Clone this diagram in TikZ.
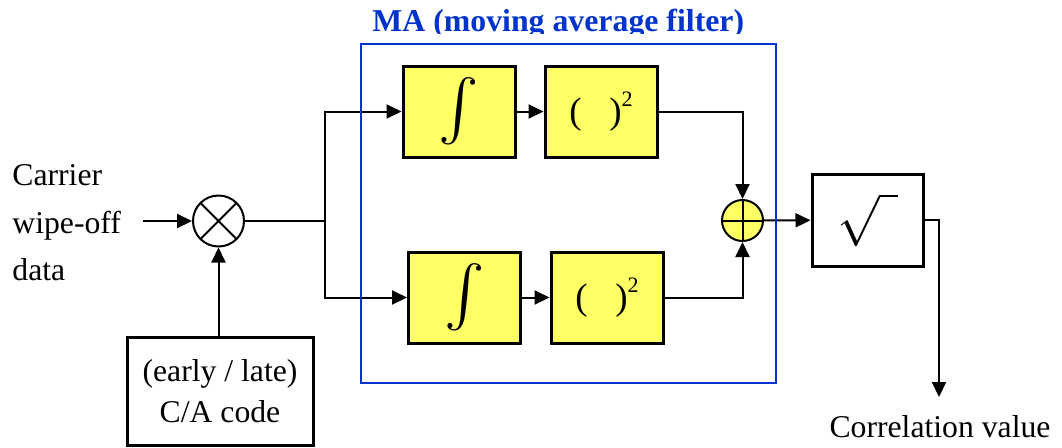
\documentclass[tikz,border=0pt]{standalone}
\usepackage{fontspec}
\setmainfont{Liberation Serif}
\usetikzlibrary{arrows.meta}
\definecolor{boxyellow}{RGB}{255,255,102}
\definecolor{mablue}{RGB}{0,51,204}
\tikzset{
  wire/.style={line width=1pt, draw=black},
  arr/.style={wire, -{Triangle[length=7.5pt,width=7pt]}},
  ybox/.style={draw=black, line width=1.5pt, fill=boxyellow, minimum width=56pt, minimum height=45.5pt, inner sep=0pt},
  wbox/.style={draw=black, line width=1.5pt, fill=white, inner sep=0pt},
  txt/.style={font=\fontsize{15.85}{23.75}\selectfont, inner sep=0pt},
}
\newcommand{\myint}{\resizebox{!}{24.5pt}{$\int$}}
\newcommand{\mysq}{\fontsize{18.5}{20}\selectfont(\hspace{0.75em})\raisebox{8.5pt}{\fontsize{11}{12}\selectfont 2}}
\begin{document}
\begin{tikzpicture}[x=0.5pt,y=-0.5pt]
\useasboundingbox (0,0) rectangle (1062,447);

% title (clipped at bottom as in the original)
\begin{scope}
  \clip (300,0) rectangle (800,33);
  \node[txt, text=mablue, font=\bfseries\fontsize{15.9}{19}\selectfont, anchor=base west] (title) at (372,31) {MA (moving average filter)};
\end{scope}

% input text
\node[txt, align=left, anchor=west] (carrier) at (12,223) {Carrier\\wipe-off\\data};
\coordinate (in) at (143,221);

% multiplier
\node[circle, draw=black, line width=1pt, fill=white, minimum size=25.5pt, inner sep=0pt,
  path picture={\draw[line width=1pt] (path picture bounding box.north west) -- (path picture bounding box.south east)
    (path picture bounding box.north east) -- (path picture bounding box.south west);}] (mult) at (218.5,221) {};

% C/A code box
\node[wbox, minimum width=93pt, minimum height=54pt, txt, align=center, font=\fontsize{15.85}{20.5}\selectfont] (ca) at (220,391) {(early / late)\\C/A code};

% filter blocks
\node[ybox] (intA) at (459,111.5) {\myint};
\node[ybox] (sqA) at (601,111.5) {\mysq};
\node[ybox] (intB) at (464.5,297.5) {\myint};
\node[ybox] (sqB) at (607,297.5) {\mysq};

% summation
\node[circle, draw=black, line width=1pt, fill=boxyellow, minimum size=20.5pt, inner sep=0pt,
  path picture={\draw[line width=1pt] (path picture bounding box.north) -- (path picture bounding box.south)
    (path picture bounding box.east) -- (path picture bounding box.west);}] (sum) at (742.5,220.5) {};

% sqrt box
\node[wbox, minimum width=55.5pt, minimum height=46pt] (sqrt) at (867.5,220) {\resizebox{!}{15pt}{$\sqrt{\hspace{0.35em}}$}};

% output
\coordinate (out) at (939,397);
\node[txt, anchor=base] (corr) at (940,437) {Correlation value};

% connectors
\coordinate (split) at (324.5,221);
\draw[arr] (in) -- (mult);
\draw[arr] (mult |- ca.north) -- (mult);
\draw[wire] (mult) -- (split);
\draw[arr] (split) |- (intA.west);
\draw[arr] (split) |- (intB.west);
\draw[arr] (intA) -- (sqA);
\draw[arr] (intB) -- (sqB);
\draw[arr] (sqA.east) -| (sum.north);
\draw[arr] (sqB.east) -| (sum.south);
\draw[arr] (sum) -- (sqrt);
\draw[arr] (sqrt.east) -| (out);

% MA box
\draw[draw=mablue, line width=1pt] (361,44) rectangle (776,383);
\end{tikzpicture}
\end{document}
